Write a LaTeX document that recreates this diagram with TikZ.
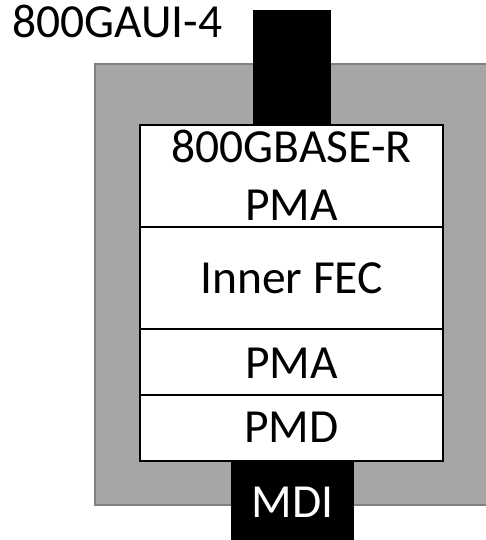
\documentclass[tikz,border=0pt]{standalone}
\usepackage{fontspec}
\setmainfont{Carlito}
\begin{document}
\begin{tikzpicture}[x=1pt,y=-1pt,
  lbl/.style={anchor=base,inner sep=0pt,font=\fontsize{47.5}{57}\selectfont},
  layer/.style={draw=black,line width=2pt,fill=white},
  blk/.style={fill=black}]
\useasboundingbox (0,0) rectangle (485,540);
\fill[fill=white] (0,0) rectangle (485,540);
% module
\path[fill={rgb,255:red,166;green,166;blue,166},draw={rgb,255:red,128;green,128;blue,128},line width=2pt] (95,64) rectangle (495,505);
% top connector
\fill[blk] (253,10) rectangle (331,127);
% layers
\draw[layer] (140,125) rectangle (443,227);
\draw[layer] (140,227) rectangle (443,329);
\draw[layer] (140,329) rectangle (443,395);
\draw[layer] (140,395) rectangle (443,461);
% MDI
\fill[blk] (231,461) rectangle (354,540);
% labels
\node[lbl,anchor=base west] (aui) at (12,38) {800GAUI-4};
\node[lbl] (base) at (291.5,163) {800GBASE-R};
\node[lbl] (pma1) at (291.5,220) {PMA};
\node[lbl] (fec) at (291.5,293) {Inner FEC};
\node[lbl] (pma2) at (291.5,378) {PMA};
\node[lbl] (pmd) at (291.5,442) {PMD};
\node[lbl,text=white] (mdi) at (292.5,517) {MDI};
\end{tikzpicture}
\end{document}
